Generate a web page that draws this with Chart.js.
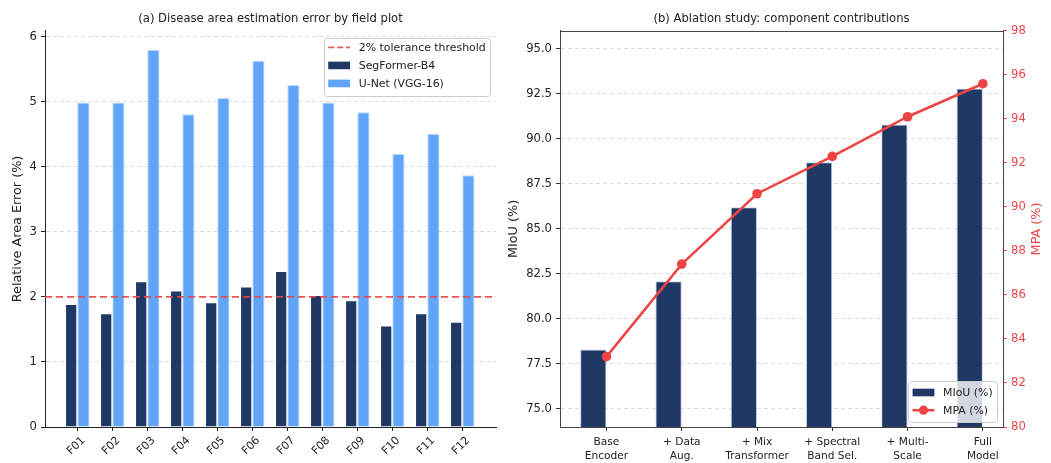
<!DOCTYPE html>
<html>
<head>
<meta charset="utf-8">
<title>Disease area error and ablation study</title>
<script src="https://cdn.jsdelivr.net/npm/chart.js@4.4.0/dist/chart.umd.min.js"></script>
<style>
  html, body { margin: 0; padding: 0; background: #ffffff; }
  #wrap { position: relative; width: 1051px; height: 463px; overflow: hidden; }
  canvas { position: absolute; top: 0; }
  #left { left: 0; }
  #right { left: 500px; }
</style>
</head>
<body>
<div id="wrap">
  <canvas id="left" width="500" height="463"></canvas>
  <canvas id="right" width="551" height="463"></canvas>
</div>
<script>
// ---- Panel (a): relative area error per field plot ----
const PLOTS = ['F01', 'F02', 'F03', 'F04', 'F05', 'F06', 'F07', 'F08', 'F09', 'F10', 'F11', 'F12'];
const SEGFORMER = [1.89, 1.75, 2.24, 2.10, 1.92, 2.16, 2.40, 2.03, 1.95, 1.56, 1.75, 1.62];
const UNET = [4.99, 4.99, 5.80, 4.81, 5.06, 5.63, 5.26, 4.99, 4.84, 4.20, 4.51, 3.87];
const THRESHOLD = 2.0;
const THRESHOLD_LABEL = '2% tolerance threshold';
const ERROR_TICKS = [0, 1, 2, 3, 4, 5, 6];

// ---- Panel (b): ablation study ----
const STAGES = [['Base', 'Encoder'], ['+ Data', 'Aug.'], ['+ Mix', 'Transformer'],
                ['+ Spectral', 'Band Sel.'], ['+ Multi-', 'Scale'], ['Full', 'Model']];
const MIOU = [78.3, 82.1, 86.2, 88.7, 90.8, 92.8];
const MPA = [83.2, 87.4, 90.6, 92.3, 94.1, 95.6];
const MIOU_TICKS = [75, 77.5, 80, 82.5, 85, 87.5, 90, 92.5, 95];
const MPA_TICKS = [80, 82, 84, 86, 88, 90, 92, 94, 96, 98];

const NAVY = '#1f3864';
const SKY = '#60a5fa';
const RED = '#ef4444';
const INK = '#222222';
const GRID = 'rgba(0,0,0,0.13)';
const FONT = '"DejaVu Sans", sans-serif';

Chart.defaults.font.family = FONT;
Chart.defaults.color = INK;
Chart.defaults.animation = false;

const fixedWidth = w => scale => { scale.width = w; };
const fixedHeight = h => scale => { scale.height = h; };
const setTicks = values => scale => { scale.ticks = values.map(v => ({ value: v })); };
const points = (values) => values.map((v, i) => ({ x: i, y: v }));

// Matplotlib-style framed legend drawn inside the plot area
const boxLegend = {
  id: 'boxLegend',
  afterDraw(chart, args, o) {
    if (!o || !o.items) return;
    const { ctx, chartArea } = chart;
    const fs = o.fontSize;
    ctx.save();
    ctx.font = `${fs}px ${FONT}`;
    const textW = Math.max(...o.items.map(it => ctx.measureText(it.label).width));
    const pad = 0.4 * fs, hl = 2 * fs, hp = 0.8 * fs;
    const w = pad + hl + hp + textW + pad;
    const h = o.items.length * o.rowHeight + o.extra;
    const x = chartArea.right - o.inset - w;
    const y = o.corner === 'top' ? chartArea.top + o.insetY : chartArea.bottom - o.insetY - h;
    ctx.beginPath();
    ctx.roundRect(Math.round(x) + 0.5, Math.round(y) + 0.5, Math.round(w), Math.round(h), 3);
    ctx.fillStyle = 'rgba(255,255,255,0.8)';
    ctx.fill();
    ctx.strokeStyle = '#cccccc';
    ctx.lineWidth = 1;
    ctx.stroke();
    o.items.forEach((it, i) => {
      const cy = y + o.firstRow + i * o.rowHeight;
      const hx = x + pad;
      if (it.kind === 'patch') {
        ctx.fillStyle = it.color;
        ctx.fillRect(hx, cy - 0.35 * fs, hl, 0.7 * fs);
      } else {
        ctx.strokeStyle = it.color;
        ctx.lineWidth = it.lineWidth;
        ctx.setLineDash(it.dash || []);
        ctx.beginPath();
        ctx.moveTo(hx, cy);
        ctx.lineTo(hx + hl, cy);
        ctx.stroke();
        ctx.setLineDash([]);
        if (it.marker) {
          ctx.fillStyle = it.color;
          ctx.beginPath();
          ctx.arc(hx + hl / 2, cy, it.marker, 0, Math.PI * 2);
          ctx.fill();
        }
      }
      ctx.fillStyle = INK;
      ctx.textBaseline = 'middle';
      ctx.textAlign = 'left';
      ctx.fillText(it.label, hx + hl + hp, cy + 0.5);
    });
    ctx.restore();
  }
};

// Horizontal reference line across the plot area
const refLine = {
  id: 'refLine',
  afterDatasetsDraw(chart, args, o) {
    if (!o || o.value === undefined) return;
    const { ctx, chartArea, scales } = chart;
    const py = scales.y.getPixelForValue(o.value);
    ctx.save();
    ctx.strokeStyle = o.color;
    ctx.lineWidth = o.width;
    ctx.setLineDash(o.dash);
    ctx.beginPath();
    ctx.moveTo(chartArea.left, py);
    ctx.lineTo(chartArea.right, py);
    ctx.stroke();
    ctx.restore();
  }
};

// Closed frame and bottom-to-top right axis title
const frame = {
  id: 'frame',
  afterDraw(chart, args, o) {
    if (!o || !o.color) return;
    const { ctx, chartArea } = chart;
    ctx.save();
    ctx.strokeStyle = o.color;
    ctx.lineWidth = 1;
    ctx.beginPath();
    ctx.moveTo(chartArea.left, Math.round(chartArea.top) + 0.5);
    ctx.lineTo(chartArea.right, Math.round(chartArea.top) + 0.5);
    ctx.stroke();
    if (o.rightTitle) {
      ctx.translate(o.rightTitle.x, (chartArea.top + chartArea.bottom) / 2);
      ctx.rotate(-Math.PI / 2);
      ctx.font = `${o.rightTitle.size}px ${FONT}`;
      ctx.fillStyle = o.rightTitle.color;
      ctx.textAlign = 'center';
      ctx.textBaseline = 'middle';
      ctx.fillText(o.rightTitle.text, 0, 0);
    }
    ctx.restore();
  }
};

Chart.register(boxLegend, refLine, frame);

// ---------------- Panel (a) ----------------
new Chart(document.getElementById('left'), {
  type: 'bar',
  data: {
    datasets: [
      {
        label: 'SegFormer-B4',
        data: points(SEGFORMER),
        backgroundColor: NAVY,
        borderColor: 'rgba(255,255,255,0.75)',
        borderWidth: 1,
        categoryPercentage: 0.7,
        barPercentage: 1.0
      },
      {
        label: 'U-Net (VGG-16)',
        data: points(UNET),
        backgroundColor: SKY,
        borderColor: 'rgba(190,215,250,0.9)',
        borderWidth: 1,
        categoryPercentage: 0.7,
        barPercentage: 1.0
      }
    ]
  },
  options: {
    responsive: false,
    devicePixelRatio: 1,
    layout: { padding: { left: 0, right: 4, top: 0, bottom: 0 } },
    plugins: {
      legend: { display: false },
      tooltip: { enabled: false },
      title: {
        display: true,
        text: '(a) Disease area estimation error by field plot',
        fullSize: false,
        color: INK,
        font: { size: 11.6, weight: 'normal', lineHeight: 1.2 },
        padding: { top: 12.3, bottom: 4.7 }
      },
      refLine: { value: THRESHOLD, color: 'rgba(228,70,70,0.9)', width: 1.8, dash: [7, 4] },
      boxLegend: {
        corner: 'top', inset: 6, insetY: 6.7, fontSize: 10.9, rowHeight: 18, extra: 3.5, firstRow: 9.8,
        items: [
          { label: THRESHOLD_LABEL, kind: 'line', color: 'rgba(228,70,70,0.9)', lineWidth: 1.8, dash: [6, 3] },
          { label: 'SegFormer-B4', kind: 'patch', color: NAVY },
          { label: 'U-Net (VGG-16)', kind: 'patch', color: SKY }
        ]
      }
    },
    scales: {
      x: {
        type: 'linear',
        offset: false,
        min: -0.923,
        max: 11.963,
        afterBuildTicks: setTicks(PLOTS.map((_, i) => i)),
        afterFit: fixedHeight(36),
        ticks: {
          callback: v => PLOTS[v],
          autoSkip: false,
          minRotation: 45,
          maxRotation: 45,
          labelOffset: 6,
          padding: 3,
          color: INK,
          font: { size: 11 }
        },
        grid: { display: true, offset: false, drawOnChartArea: false, drawTicks: true, tickLength: 4, tickColor: INK, tickWidth: 1 },
        border: { display: true, color: INK, width: 1 }
      },
      y: {
        min: 0,
        max: 1.05 * Math.max(...UNET),
        afterBuildTicks: setTicks(ERROR_TICKS),
        afterFit: fixedWidth(45),
        title: {
          display: true,
          text: 'Relative Area Error (%)',
          color: INK,
          font: { size: 12.8 },
          padding: { top: 10, bottom: 0 }
        },
        ticks: { color: INK, font: { size: 11.6 }, padding: 4 },
        grid: { color: GRID, lineWidth: 1, tickColor: INK, tickLength: 4, tickBorderDash: [] },
        border: { display: true, color: INK, width: 1, dash: [4, 3] }
      }
    }
  }
});

// ---------------- Panel (b) ----------------
new Chart(document.getElementById('right'), {
  data: {
    datasets: [
      {
        type: 'line',
        label: 'MPA (%)',
        yAxisID: 'y1',
        data: points(MPA),
        borderColor: RED,
        backgroundColor: RED,
        borderWidth: 2.5,
        pointRadius: 4.8,
        pointBackgroundColor: RED,
        pointBorderColor: RED,
        pointBorderWidth: 0,
        tension: 0,
        order: 0
      },
      {
        type: 'bar',
        label: 'MIoU (%)',
        yAxisID: 'y',
        data: points(MIOU),
        backgroundColor: NAVY,
        borderColor: 'rgba(190,205,230,0.9)',
        borderWidth: 1,
        categoryPercentage: 0.7,
        barPercentage: 1.0,
        order: 1
      },
      {
        // empty slot so each bar sits just left of its stage tick
        type: 'bar',
        label: 'slot',
        yAxisID: 'y',
        data: points(MIOU.map(() => null)),
        categoryPercentage: 0.7,
        barPercentage: 1.0,
        order: 1
      }
    ]
  },
  options: {
    responsive: false,
    devicePixelRatio: 1,
    layout: { padding: { left: 0, right: 0, top: 0, bottom: 0 } },
    plugins: {
      legend: { display: false },
      tooltip: { enabled: false },
      title: {
        display: true,
        text: '(b) Ablation study: component contributions',
        fullSize: false,
        color: INK,
        font: { size: 11.6, weight: 'normal', lineHeight: 1.2 },
        padding: { top: 12.3, bottom: 4.7 }
      },
      frame: { color: '#444444', rightTitle: { text: 'MPA (%)', x: 537, size: 12.8, color: RED } },
      boxLegend: {
        corner: 'bottom', inset: 6, insetY: 5, fontSize: 10.9, rowHeight: 17.7, extra: 5.5, firstRow: 11.4,
        items: [
          { label: 'MIoU (%)', kind: 'patch', color: NAVY },
          { label: 'MPA (%)', kind: 'line', color: RED, lineWidth: 2.5, marker: 4.6 }
        ]
      }
    },
    scales: {
      x: {
        type: 'linear',
        offset: false,
        min: -0.6175,
        max: 5.2675,
        afterBuildTicks: setTicks(STAGES.map((_, i) => i)),
        afterFit: fixedHeight(36),
        ticks: {
          callback: v => STAGES[v],
          autoSkip: false,
          minRotation: 0,
          maxRotation: 0,
          padding: 5,
          color: INK,
          font: { size: 10.6, lineHeight: 1.25 }
        },
        grid: { display: true, offset: false, drawOnChartArea: false, drawTicks: true, tickLength: 4, tickColor: '#333', tickWidth: 1 },
        border: { display: true, color: '#444444', width: 1 }
      },
      y: {
        position: 'left',
        min: 74,
        max: 96,
        afterBuildTicks: setTicks(MIOU_TICKS),
        afterFit: fixedWidth(60),
        title: {
          display: true,
          text: 'MIoU (%)',
          color: INK,
          font: { size: 12.8 },
          padding: { top: 6, bottom: 0 }
        },
        ticks: { callback: v => v.toFixed(1), color: INK, font: { size: 11.6 }, padding: 4 },
        grid: { color: GRID, lineWidth: 1, tickColor: '#333', tickLength: 4, tickBorderDash: [] },
        border: { display: true, color: '#444444', width: 1, dash: [4, 3] }
      },
      y1: {
        position: 'right',
        min: 80,
        max: 98,
        afterBuildTicks: setTicks(MPA_TICKS),
        afterFit: fixedWidth(48),
        ticks: { color: RED, font: { size: 11.6 }, padding: 4 },
        grid: { display: true, drawOnChartArea: false, drawTicks: true, tickLength: 4, tickColor: RED, tickBorderDash: [] },
        border: { display: true, color: '#444444', width: 1 }
      }
    }
  }
});
</script>
</body>
</html>
